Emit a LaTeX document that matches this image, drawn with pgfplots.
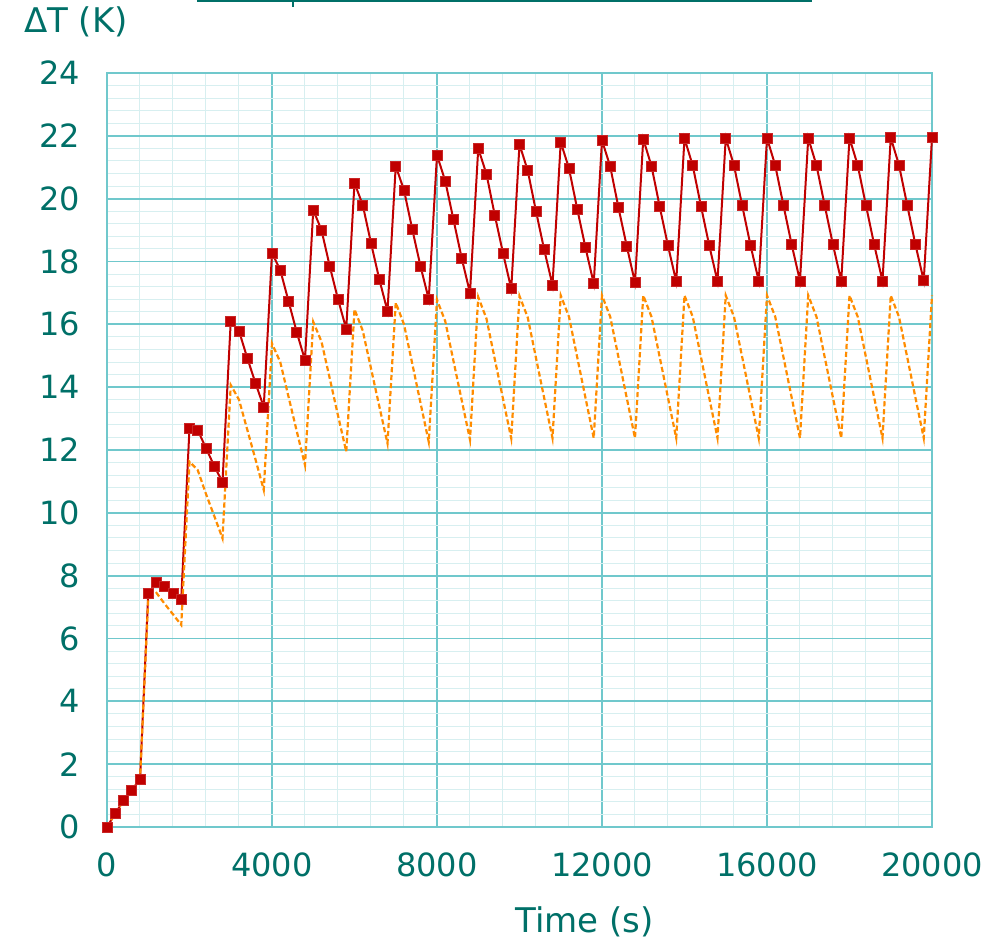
\documentclass[border=0pt]{standalone}
\usepackage{pgfplots}
\usepackage{pgfplotstable}
\pgfplotsset{compat=1.18}
\usepackage{fontspec}
\setmainfont{DejaVu Sans}

\definecolor{txt}{RGB}{0,112,104}
\definecolor{gmaj}{RGB}{112,200,204}
\definecolor{gmin}{RGB}{215,239,240}
\definecolor{dred}{RGB}{192,0,0}
\definecolor{dorange}{RGB}{255,140,0}

% measured series (every 200 s)
\pgfplotstableread{
t dT
0 0
200 0.43
400 0.84
600 1.18
800 1.5
1000 7.42
1200 7.8
1400 7.67
1600 7.45
1800 7.26
2000 12.7
2200 12.63
2400 12.06
2600 11.49
2800 10.98
3000 16.1
3200 15.79
3400 14.93
3600 14.13
3800 13.37
4000 18.27
4200 17.73
4400 16.74
4600 15.75
4800 14.86
5000 19.64
5200 19.0
5400 17.85
5600 16.8
5800 15.85
6000 20.5
6200 19.8
6400 18.59
6600 17.44
6800 16.42
7000 21.04
7200 20.27
7400 19.03
7600 17.85
7800 16.8
8000 21.39
8200 20.56
8400 19.33
8600 18.1
8800 17.0
9000 21.6
9200 20.78
9400 19.48
9600 18.27
9800 17.13
10000 21.73
10200 20.89
10400 19.6
10600 18.37
10800 17.25
11000 21.8
11200 20.96
11400 19.67
11600 18.44
11800 17.3
12000 21.86
12200 21.02
12400 19.71
12600 18.49
12800 17.33
13000 21.9
13200 21.04
13400 19.74
13600 18.5
13800 17.36
14000 21.92
14200 21.05
14400 19.76
14600 18.51
14800 17.37
15000 21.93
15200 21.06
15400 19.77
15600 18.52
15800 17.38
16000 21.93
16200 21.06
16400 19.78
16600 18.53
16800 17.38
17000 21.93
17200 21.06
17400 19.78
17600 18.53
17800 17.38
18000 21.93
18200 21.06
18400 19.78
18600 18.53
18800 17.38
19000 21.94
19200 21.07
19400 19.79
19600 18.53
19800 17.39
20000 21.94
}\measured

% second series (dashed)
\pgfplotstableread{
t dT
0 0
200 0.43
400 0.84
600 1.18
800 1.5
1000 7.25
1200 7.45
1400 7.1
1600 6.77
1800 6.43
2000 11.63
2200 11.36
2400 10.6
2600 9.9
2800 9.19
3000 14.07
3200 13.6
3400 12.65
3600 11.7
3800 10.73
4000 15.39
4200 14.8
4400 13.7
4600 12.6
4800 11.52
5000 16.08
5200 15.45
5400 14.28
5600 13.1
5800 11.95
6000 16.48
6200 15.8
6400 14.6
6600 13.4
6800 12.21
7000 16.69
7200 16.0
7400 14.75
7600 13.5
7800 12.26
8000 16.78
8200 16.1
8400 14.83
8600 13.58
8800 12.33
9000 16.87
9200 16.18
9400 14.9
9600 13.63
9800 12.37
10000 16.9
10200 16.22
10400 14.93
10600 13.65
10800 12.38
11000 16.92
11200 16.24
11400 14.95
11600 13.66
11800 12.38
12000 16.92
12200 16.24
12400 14.95
12600 13.66
12800 12.38
13000 16.92
13200 16.24
13400 14.95
13600 13.66
13800 12.38
14000 16.92
14200 16.24
14400 14.95
14600 13.66
14800 12.38
15000 16.92
15200 16.24
15400 14.95
15600 13.66
15800 12.38
16000 16.92
16200 16.24
16400 14.95
16600 13.66
16800 12.38
17000 16.92
17200 16.24
17400 14.95
17600 13.66
17800 12.38
18000 16.92
18200 16.24
18400 14.95
18600 13.66
18800 12.38
19000 16.92
19200 16.24
19400 14.95
19600 13.66
19800 12.38
20000 16.92
}\model

\begin{document}
\begin{tikzpicture}
\begin{axis}[
    scale only axis,
    width=412.5pt, height=377pt,
    xmin=0, xmax=20000, ymin=0, ymax=24,
    xtick={0,4000,...,20000},
    ytick={0,2,...,24},
    minor x tick num=4, minor y tick num=4,
    grid=both,
    major grid style={gmaj, line width=0.9pt},
    minor grid style={gmin, line width=0.5pt},
    axis line style={gmaj, line width=0.9pt},
    major tick length=0pt, minor tick length=0pt,
    scaled x ticks=false,
    /pgf/number format/assume math mode=true,
    /pgf/number format/1000 sep={},
    tick label style={font=\fontsize{16}{19}\selectfont, text=txt},
    xticklabel style={yshift=-9.5pt},
    yticklabel style={xshift=-10pt},
    xlabel={Time (s)},
    xlabel style={font=\fontsize{17}{20}\selectfont, text=txt,
        at={(axis description cs:0.579,-0.126)}, anchor=center},
    ylabel={ΔT (K)},
    ylabel style={font=\fontsize{17}{20}\selectfont, text=txt, rotate=-90,
        at={(axis description cs:-0.0376,1.0676)}, anchor=center},
    clip=false,
]
\addplot[dred, line width=1pt, mark=square*, mark size=2.5pt,
    mark options={fill=dred, draw=dred!85!white, line width=0.4pt}]
    table[x=t, y=dT] {\measured};
\addplot[dorange, line width=1.1pt, dash pattern=on 2.6pt off 1.4pt, no marks]
    table[x=t, y=dT] {\model};
% cut-off title underline at the top edge
\draw[txt, line width=1pt] (axis description cs:0.109,1.0955) -- (axis description cs:0.8545,1.0955);
\draw[txt, line width=1pt] (axis description cs:0.2255,1.0955) -- (axis description cs:0.2255,1.087);
\path (axis description cs:-0.1297,-0.1538) rectangle (axis description cs:1.0776,1.0968);
\end{axis}
\end{tikzpicture}
\end{document}
